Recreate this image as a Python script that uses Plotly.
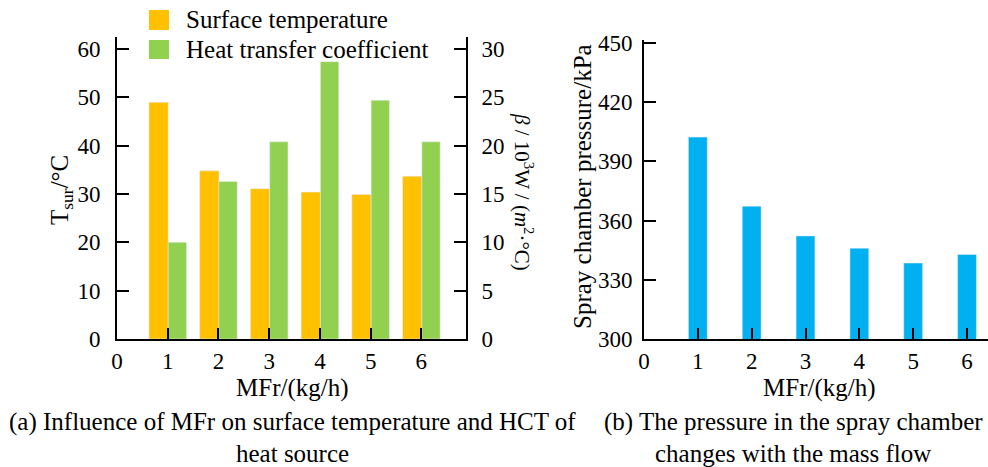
import plotly.graph_objects as go

# ---- data ----
mfr = [1, 2, 3, 4, 5, 6]
surface_temp = [49.0, 34.8, 31.1, 30.4, 29.9, 33.7]
heat_coeff = [10.0, 16.3, 20.4, 28.7, 24.7, 20.4]
pressure = [402.3, 367.3, 352.2, 346.0, 338.5, 342.8]
x_ticks = [0, 1, 2, 3, 4, 5, 6]
left_ticks = [0, 10, 20, 30, 40, 50, 60]
right_ticks = [0, 5, 10, 15, 20, 25, 30]
p_ticks = [300, 330, 360, 390, 420, 450]

ORANGE = "#FFC000"
GREEN = "#92D050"
BLUE = "#00B0F0"
FONT = "Liberation Serif"
W, H = 988, 467

def px(x):
    return x / W

def py(y):
    return 1 - y / H

fig = go.Figure()
fig.add_trace(go.Bar(x=mfr, y=surface_temp, marker_color=ORANGE, width=0.38, offset=-0.37,
                     xaxis="x", yaxis="y", name="Surface temperature", showlegend=False))
fig.add_trace(go.Bar(x=mfr, y=heat_coeff, marker_color=GREEN, width=0.36, offset=0.01,
                     xaxis="x", yaxis="y2", name="Heat transfer coefficient", showlegend=False))
fig.add_trace(go.Bar(x=mfr, y=pressure, marker_color=BLUE, width=0.35,
                     xaxis="x3", yaxis="y3", name="Pressure", showlegend=False))

axis_common = dict(showline=True, linecolor="black", linewidth=2, ticks="inside",
                   tickwidth=2, tickcolor="black", showgrid=False, zeroline=False,
                   automargin=False,
                   tickfont=dict(family=FONT, size=23, color="black"))

fig.update_layout(
    width=W, height=H, margin=dict(l=0, r=0, t=0, b=0, autoexpand=False),
    plot_bgcolor="white", paper_bgcolor="white", barmode="overlay",
    font=dict(family=FONT, color="black"),
    xaxis=dict(domain=[px(117), px(466)], range=[0, 6.88], tickvals=x_ticks, ticklen=11,
               anchor="y", ticklabelstandoff=0, **axis_common),
    yaxis=dict(domain=[py(339), py(37)], range=[0, 62.5], tickvals=left_ticks, ticklen=12,
               anchor="x", ticklabelstandoff=10, **axis_common),
    yaxis2=dict(overlaying="y", side="right", range=[0, 31.25], tickvals=right_ticks, ticklen=12,
                anchor="x", ticklabelstandoff=9, **axis_common),
    xaxis3=dict(domain=[px(644), 1.0], range=[0, 6.39], tickvals=x_ticks, ticklen=11,
                anchor="y3", ticklabelstandoff=0, **axis_common),
    yaxis3=dict(domain=[py(339), py(40)], range=[300, 451.5], tickvals=p_ticks, ticklen=12,
                anchor="x3", ticklabelstandoff=5, **axis_common),
)

# legend squares
fig.add_shape(type="rect", xref="paper", yref="paper", x0=px(149), x1=px(169), y0=py(30), y1=py(10),
              fillcolor=ORANGE, line_width=0)
fig.add_shape(type="rect", xref="paper", yref="paper", x0=px(149), x1=px(169), y0=py(59), y1=py(40),
              fillcolor=GREEN, line_width=0)

def ann(text, x, y, size=25, xanchor="center", angle=0):
    fig.add_annotation(text=text, xref="paper", yref="paper", x=px(x), y=py(y), showarrow=False,
                       xanchor=xanchor, yanchor="middle", textangle=angle,
                       font=dict(family=FONT, size=size, color="black"))

ann("Surface temperature", 184, 20, xanchor="left")
ann("Heat transfer coefficient", 184, 49, xanchor="left")
ann("MFr/(kg/h)", 292, 388)
ann("MFr/(kg/h)", 819, 388)
ann("T<sub>sur</sub>/°C", 62, 190, angle=-90)
ann("<i>β</i> / 10<sup>3</sup>W / (<i>m</i><sup>2</sup>·°C)", 524, 192, size=21, angle=90)
ann("Spray chamber pressure/kPa", 582, 187, angle=-90)
ann("(a) Influence of MFr on surface temperature and HCT of", 292, 422)
ann("heat source", 292, 453)
ann("(b) The pressure in the spray chamber", 793, 422)
ann("changes with the mass flow", 793, 453)

fig.write_html("out.html", config={"displayModeBar": False},
               post_script="document.body.style.margin='0';document.body.style.overflow='hidden';")
